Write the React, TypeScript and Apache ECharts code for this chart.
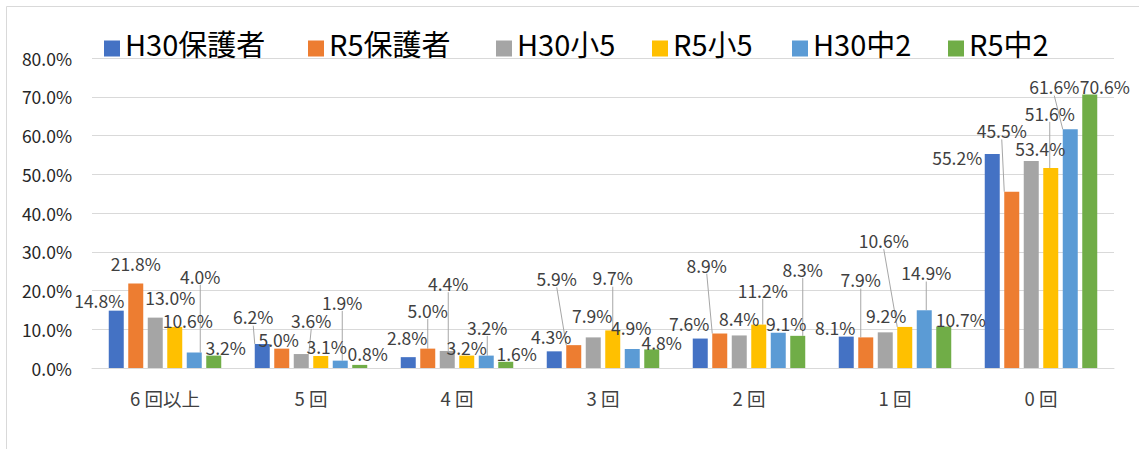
import React, { useEffect, useRef } from "react";
import * as echarts from "echarts";

const categories = ["6 回以上", "5 回", "4 回", "3 回", "2 回", "1 回", "0 回"];
const seriesNames = ["H30保護者", "R5保護者", "H30小5", "R5小5", "H30中2", "R5中2"];

const h30Parents = [14.8, 6.2, 2.8, 4.3, 7.6, 8.1, 55.2];
const r5Parents = [21.8, 5.0, 5.0, 5.9, 8.9, 7.9, 45.5];
const h30Grade5 = [13.0, 3.6, 4.4, 7.9, 8.4, 9.2, 53.4];
const r5Grade5 = [10.6, 3.1, 3.2, 9.7, 11.2, 10.6, 51.6];
const h30Grade8 = [4.0, 1.9, 3.2, 4.9, 9.1, 14.9, 61.6];
const r5Grade8 = [3.2, 0.8, 1.6, 4.8, 8.3, 10.7, 70.6];

const seriesValues = [h30Parents, r5Parents, h30Grade5, r5Grade5, h30Grade8, r5Grade8];
const colors = ["#4472C4", "#ED7D31", "#A5A5A5", "#FFC000", "#5B9BD5", "#70AD47"];

const yMin = 0;
const yMax = 80;
const yInterval = 10;

// label offsets from the default "top" label position, per series, per category
const labelOffsets: number[][][] = [
  [[-17, 2], [-9, -14.5], [-1, -7.6], [-3, -2], [-11, -3], [-11, 3], [-35, 15.5]],
  [[0, -8], [-3, 3], [0, -26], [-17, -54], [-13, -56], [-5, -45], [-10, -48.5]],
  [[15, -8], [10, -21.5], [1, -55], [-1, -9], [0, -4], [1, -4], [9, 0]],
  [[13, 6], [6, 3.5], [0, 4], [0, -40], [4, -22], [-21, -74], [-1, -42.5]],
  [[6, -64], [2, -46], [1, -16], [-1, -9.5], [8, 3], [2, -25], [-16, -30]],
  [[12, 4], [8, 0.6], [11, 4], [10, 6], [5, -54], [17, 5], [15, 5]],
];
// which labels have a leader line
const leaderLines: number[][] = [
  [0, 1, 0, 0, 0, 0, 0],
  [0, 0, 1, 1, 1, 1, 1],
  [0, 1, 1, 0, 0, 0, 0],
  [0, 0, 0, 1, 1, 1, 1],
  [1, 1, 1, 0, 0, 1, 1],
  [0, 0, 0, 0, 1, 0, 0],
];
const legendLefts = [104, 308, 496, 652, 792, 948];

const FONT = "'Noto Sans CJK JP', 'Noto Sans', sans-serif";

export default function App() {
  const ref = useRef<HTMLDivElement>(null);
  useEffect(() => {
    if (!ref.current) return;
    const chart = echarts.init(ref.current, undefined, { renderer: "svg" });
    const legends = seriesNames.map((name, i) => ({
      data: [name],
      left: legendLefts[i],
      top: 28,
      padding: 0,
      itemWidth: 16,
      itemHeight: 28,
      itemGap: 0,
      icon: "path://M0,0h16v0.01h-16z M0,12h16v16h-16z",
      selectedMode: false,
      textStyle: { fontSize: 29, lineHeight: 28, color: "#000", fontFamily: FONT, padding: [0, 0, 0, 0] },
    }));
    const series = seriesNames.map((name, si) => ({
      name,
      type: "bar",
      barWidth: 15,
      barGap: "30%",
      itemStyle: { color: colors[si] },
      data: seriesValues[si].map((v, di) =>
        leaderLines[si][di] ? { value: v, labelLine: { show: true } } : { value: v }
      ),
      label: {
        show: true,
        position: "top",
        distance: 5,
        fontSize: 17.5,
        lineHeight: 15,
        color: "#404040",
        fontFamily: FONT,
        formatter: (p: any) => `${Number(p.value).toFixed(1)}%`,
      },
      labelLine: { show: false, length2: 0, lineStyle: { color: "#a6a6a6", width: 1 } },
      labelLayout: (p: any) => {
        const off = labelOffsets[si][p.dataIndex];
        return { dx: off[0], dy: off[1] };
      },
    }));
    chart.setOption({
      animation: false,
      backgroundColor: "#fff",
      textStyle: { fontFamily: FONT },
      graphic: [
        {
          type: "rect",
          shape: { x: 6.5, y: 6.5, width: 1200, height: 500 },
          style: { fill: "none", stroke: "#d9d9d9", lineWidth: 1 },
          silent: true,
        },
      ],
      legend: legends,
      grid: { left: 92, right: 25, top: 58, bottom: 81, containLabel: false },
      xAxis: {
        type: "category",
        data: categories,
        axisLine: { show: true, lineStyle: { color: "#d9d9d9", width: 1 } },
        axisTick: { show: false },
        axisLabel: { fontSize: 18.5, lineHeight: 18, color: "#404040", margin: 21, fontFamily: FONT },
      },
      yAxis: {
        type: "value",
        min: yMin,
        max: yMax,
        interval: yInterval,
        axisLine: { show: false },
        axisTick: { show: false },
        splitLine: { lineStyle: { color: "#d9d9d9", width: 1 } },
        axisLabel: {
          fontSize: 17.5,
          color: "#262626",
          margin: 20,
          fontFamily: FONT,
          formatter: (v: number) => `${v.toFixed(1)}%`,
        },
      },
      series,
    });
    return () => chart.dispose();
  }, []);
  return (
    <div
      ref={ref}
      style={{ position: "fixed", left: 0, top: 0, width: 1139, height: 449, background: "#fff" }}
    />
  );
}
